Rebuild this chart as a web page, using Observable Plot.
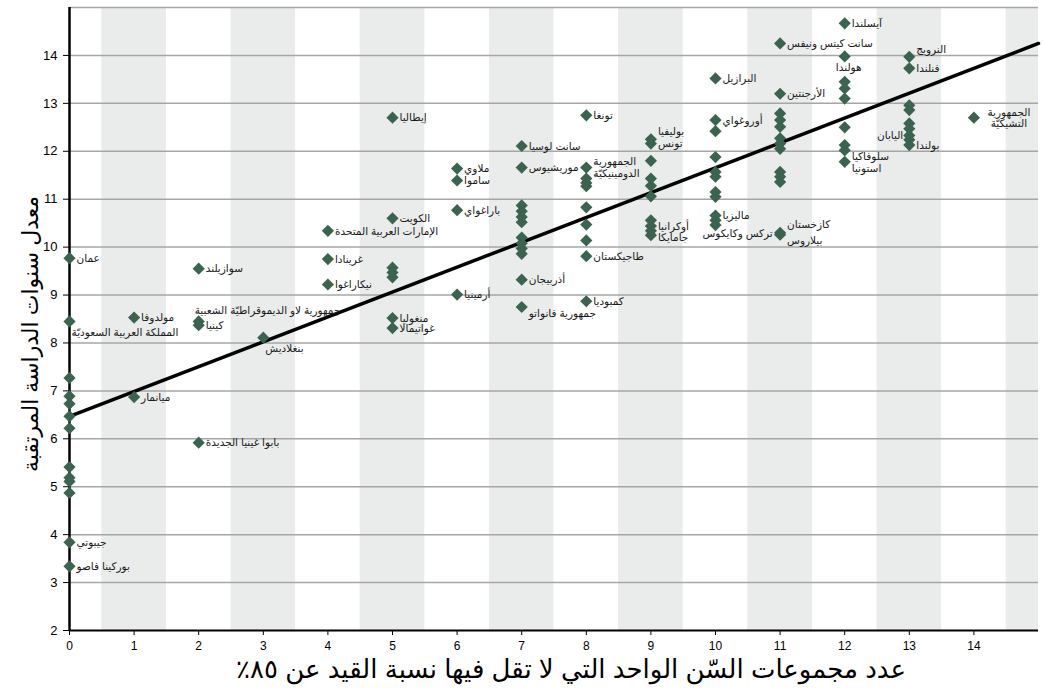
<!DOCTYPE html>
<html lang="ar">
<head>
<meta charset="utf-8">
<script src="https://cdn.jsdelivr.net/npm/d3@7"></script>
<script src="https://cdn.jsdelivr.net/npm/@observablehq/plot@0.6"></script>
<style>
  html, body { margin: 0; padding: 0; background: #fff; }
  #chart svg { display: block; }
</style>
</head>
<body>
<div id="chart"></div>
<script>
// ---------- DATA ----------
const xTitle = "عدد مجموعات السّن الواحد التي لا تقل فيها نسبة القيد عن ٨٥٪";
const yTitle = "معدل سنوات الدراسة المرتقبة";

const xTicks = [0,1,2,3,4,5,6,7,8,9,10,11,12,13,14];
const yTicks = [2,3,4,5,6,7,8,9,10,11,12,13,14];
const gridLevels = [3,4,5,6,7,8,9,10,11,12,13,14,15];
const bandStarts = [0.5, 2.5, 4.5, 6.5, 8.5, 10.5, 12.5, 14.5];

// regression line end points
const trendX = [0, 15];
const trendY = [6.47, 14.25];

// points: age groups with >=85% enrolment (x), expected years of schooling (y)
const ageGroups = [
  0,0,0,0,0,0,0,0,0,0,0,0,0,
  1,1,
  2,2,2,2,
  3,
  4,4,4,
  5,5,5,5,5,5,5,
  6,6,6,6,
  7,7,7,7,7,7,7,7,7,7,7,7,
  8,8,8,8,8,8,8,8,8,8,
  9,9,9,9,9,9,9,9,9,9,
  10,10,10,10,10,10,10,10,10,10,10,
  11,11,11,11,11,11,11,11,11,11,11,11,11,
  12,12,12,12,12,12,12,12,12,
  13,13,13,13,13,13,13,13,13,
  14
];
const schoolYears = [
  9.77,8.45,7.27,6.89,6.73,6.47,6.22,5.41,5.19,5.11,4.87,3.84,3.34,
  8.53,6.87,
  9.55,8.45,8.37,5.92,
  8.11,
  10.34,9.75,9.22,
  12.70,10.60,9.57,9.47,9.37,8.52,8.31,
  11.64,11.39,10.77,9.01,
  12.11,11.66,10.87,10.75,10.63,10.52,10.20,10.08,9.97,9.86,9.32,8.75,
  12.75,11.66,11.43,11.34,11.27,10.83,10.47,10.14,9.81,8.87,
  12.25,12.16,11.80,11.43,11.28,11.06,10.56,10.44,10.34,10.25,
  13.52,12.65,12.42,11.88,11.57,11.47,11.15,11.05,10.66,10.56,10.46,
  14.25,13.20,12.79,12.65,12.51,12.27,12.16,12.05,11.57,11.47,11.36,10.30,10.26,
  14.67,13.98,13.45,13.31,13.10,12.50,12.13,12.02,11.78,
  13.97,13.73,12.96,12.86,12.58,12.47,12.33,12.24,12.13,
  12.70
];
const countryNames = [
  "عمان","المملكة العربية السعوديّة","","","","","","","","","","جيبوتي","بوركينا فاصو",
  "مولدوفا","ميانمار",
  "سوازيلند","جمهورية لاو الديموقراطيّة الشعبية","كينيا","بابوا غينيا الجديدة",
  "بنغلاديش",
  "الإمارات العربية المتحدة","غرينادا","نيكاراغوا",
  "إيطاليا","الكويت","","","","منغوليا","غواتيمالا",
  "ملاوي","ساموا","باراغواي","أرمينيا",
  "سانت لوسيا","موريشيوس","","","","","","","","","أذربيجان","جمهورية فانواتو",
  "تونغا","الجمهورية\nالدومينيكيّة","","","","","","","طاجيكستان","كمبوديا",
  "بوليفيا","تونس","","","","","أوكرانيا","","جامايكا","",
  "البرازيل","أوروغواي","","","","","","","ماليزيا","","تركس وكايكوس",
  "سانت كيتس ونيفس","الأرجنتين","","","","","","","","","","كازخستان","بيلاروس",
  "آيسلندا","هولندا","","","","","","سلوفاكيا","استونيا",
  "النرويج","فنلندا","","","","","اليابان","","بولندا",
  "الجمهورية\nالتشيكيّة"
];
// where each label sits relative to its point
const labelSide = [
  "r","below","","","","","","","","","","r","r",
  "r","r",
  "r","above","r","r",
  "below",
  "r","r","r",
  "r","r","","","","r","r",
  "r","r","r","r",
  "r","r","","","","","","","","","r","rd",
  "r","r","","","","","","","r","r",
  "ru","r","","","","","rd","","rd","",
  "r","r","","","","","","","r","","tk",
  "r","r","","","","","","","","","","ru","rd",
  "r","bc","","","","","","rd","rd",
  "ru","r","","","","","l","","r",
  "c"
];

// ---------- BUILD ----------
const points = ageGroups.map((x, i) => ({x, y: schoolYears[i], name: countryNames[i], side: labelSide[i]}));
const trend = trendX.map((x, i) => ({x, y: trendY[i]}));

const placements = {
  r:     {dx: 7,   dy: 0,   textAnchor: "start"},
  ru:    {dx: 7,   dy: -8,  textAnchor: "start"},
  rd:    {dx: 7,   dy: 6,   textAnchor: "start"},
  below: {dx: 2,   dy: 11,  textAnchor: "start"},
  above: {dx: -4,  dy: -11, textAnchor: "start"},
  bc:    {dx: 4,   dy: 11,  textAnchor: "middle"},
  l:     {dx: -6,  dy: 0,   textAnchor: "end"},
  tk:    {dx: -13, dy: 8,   textAnchor: "start"},
  c:     {dx: 35,  dy: 0,   textAnchor: "middle"}
};

const labelMarks = Object.entries(placements).map(([side, p]) =>
  Plot.text(points.filter(d => d.name && d.side === side), {
    x: "x", y: "y", text: "name",
    dx: p.dx, dy: p.dy, textAnchor: p.textAnchor,
    fontSize: 10.5, fill: "#1a1a1a", lineHeight: 1.1
  })
);

// right-to-left embedding so the percent sign and digits order correctly
const rtl = s => "\u202B" + s + "\u202C";

const chart = Plot.plot({
  width: 1043,
  height: 693,
  marginLeft: 69,
  marginRight: 5,
  marginTop: 7,
  marginBottom: 63,
  x: {domain: [0, 15]},
  y: {domain: [2, 15]},
  style: {fontFamily: "'Liberation Sans', Arial, 'DejaVu Sans', sans-serif", background: "#fff", color: "#000"},
  marks: [
    Plot.rect(bandStarts, {x1: d => d, x2: d => Math.min(d + 1, 15), y1: 2, y2: 15, fill: "#e9eceb"}),
    Plot.ruleY(gridLevels, {stroke: "#a6a6a6", strokeWidth: 1.5}),
    Plot.axisX({ticks: xTicks, tickSize: 5, tickPadding: 6, fontSize: 12, label: null, tickFormat: d => String(d)}),
    Plot.axisY({ticks: yTicks, tickSize: 6, tickPadding: 6, fontSize: 13, label: null, tickFormat: d => String(d)}),
    Plot.ruleY([2], {stroke: "#000", strokeWidth: 2}),
    Plot.ruleX([0], {y1: 2, y2: 15, stroke: "#000", strokeWidth: 2.5}),
    Plot.line(trend, {x: "x", y: "y", stroke: "#000", strokeWidth: 3.5}),
    Plot.dot(points, {x: "x", y: "y", symbol: "diamond2", r: 5.5, fill: "#3b6450", stroke: "none"}),
    ...labelMarks,
    Plot.text([rtl(xTitle)], {frameAnchor: "bottom", textAnchor: "middle", lineAnchor: "middle", dx: 17, dy: 39, fontSize: 26, fill: "#000"}),
    Plot.text([rtl(yTitle)], {frameAnchor: "left", textAnchor: "middle", lineAnchor: "middle", rotate: -90, dx: -39, dy: 15, fontSize: 22, fill: "#000"})
  ]
});

document.getElementById("chart").appendChild(chart);
</script>
</body>
</html>
